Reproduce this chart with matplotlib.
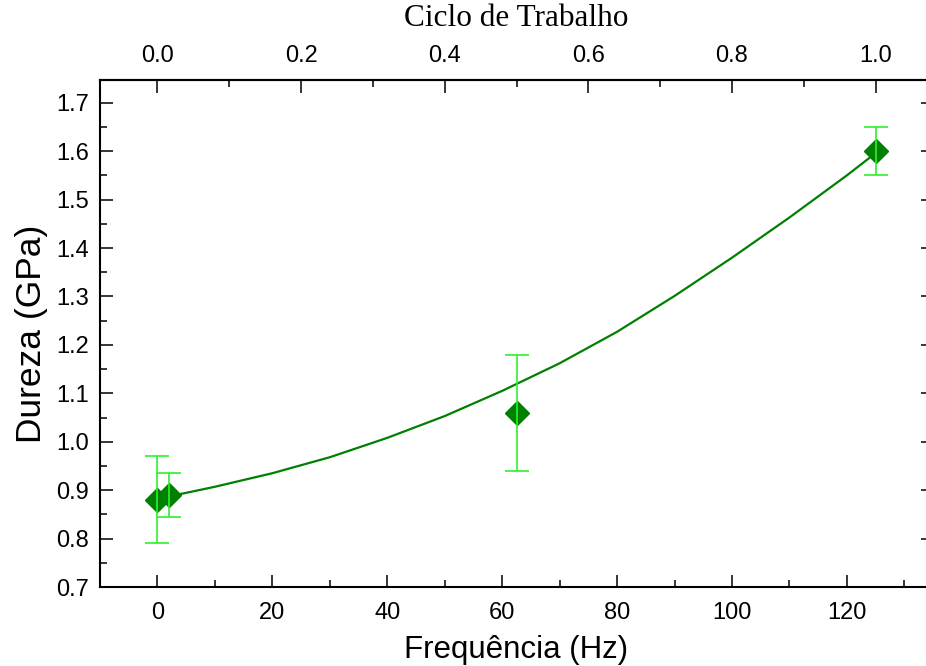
import numpy as np
import matplotlib
matplotlib.use('Agg')
from matplotlib import pyplot as plt
from matplotlib.ticker import MultipleLocator, FixedLocator, FormatStrFormatter

# pontos medidos
freq = [0, 2, 62.5, 125]          # Hz
dureza = [0.88, 0.89, 1.06, 1.60]  # GPa
erro = [0.09, 0.045, 0.12, 0.05]
f_max = 125.0  # frequencia que corresponde a ciclo de trabalho 1.0

# curva de ajuste
ajuste_x = [0, 10, 20, 30, 40, 50, 60, 70, 80, 90, 100, 110, 120, 125]
ajuste_y = [0.882, 0.907, 0.935, 0.968, 1.008, 1.053, 1.105, 1.162,
            1.227, 1.301, 1.380, 1.463, 1.550, 1.596]

ciclo_ticks = [0.0, 0.2, 0.4, 0.6, 0.8, 1.0]

plt.rcParams['font.family'] = 'Liberation Sans'
fig = plt.figure(figsize=(9.26, 6.66), dpi=100)
ax = fig.add_axes([0.108, 0.1186, 0.8996, 0.7613])

ax.plot(ajuste_x, ajuste_y, color='#008000', lw=1.6, zorder=2)
ax.plot(freq, dureza, 'D', color='#008000', ms=12.5, zorder=3)
ax.errorbar(freq, dureza, yerr=erro, fmt='none', ecolor='#2ef02e',
            elinewidth=1.2, capsize=8.5, capthick=1.2, zorder=4)

ax.set_xlim(-10, 135)
ax.set_ylim(0.7, 1.747)
ax.xaxis.set_major_locator(MultipleLocator(20))
ax.xaxis.set_minor_locator(MultipleLocator(10))
ax.yaxis.set_major_locator(MultipleLocator(0.1))
ax.yaxis.set_minor_locator(MultipleLocator(0.05))
ax.yaxis.set_major_formatter(FormatStrFormatter('%.1f'))

for s in ax.spines.values():
    s.set_linewidth(1.5)
ax.tick_params(which='both', direction='in', width=1.1, labelsize=17,
               right=True, top=False)
ax.tick_params(which='major', length=9)
ax.tick_params(which='minor', length=4.8)
ax.tick_params(axis='x', pad=11)
ax.tick_params(axis='y', pad=8)

ax.set_xlabel('Frequência (Hz)', fontsize=22.5, labelpad=8)
ax.set_ylabel('Dureza (GPa)', fontsize=25.5, labelpad=6)

top = ax.secondary_xaxis('top', functions=(lambda x: x / f_max, lambda d: d * f_max))
top.xaxis.set_major_locator(FixedLocator(ciclo_ticks))
top.xaxis.set_minor_locator(FixedLocator([0.1, 0.3, 0.5, 0.7, 0.9]))
top.xaxis.set_major_formatter(FormatStrFormatter('%.1f'))
top.tick_params(which='both', direction='in', width=1.1, labelsize=17, pad=9)
top.tick_params(which='major', length=9)
top.tick_params(which='minor', length=4.8)
top.spines['top'].set_linewidth(1.5)
top.set_xlabel('Ciclo de Trabalho', fontsize=22.5, family='Liberation Serif', labelpad=14)

fig.savefig('out.png', dpi=100)
